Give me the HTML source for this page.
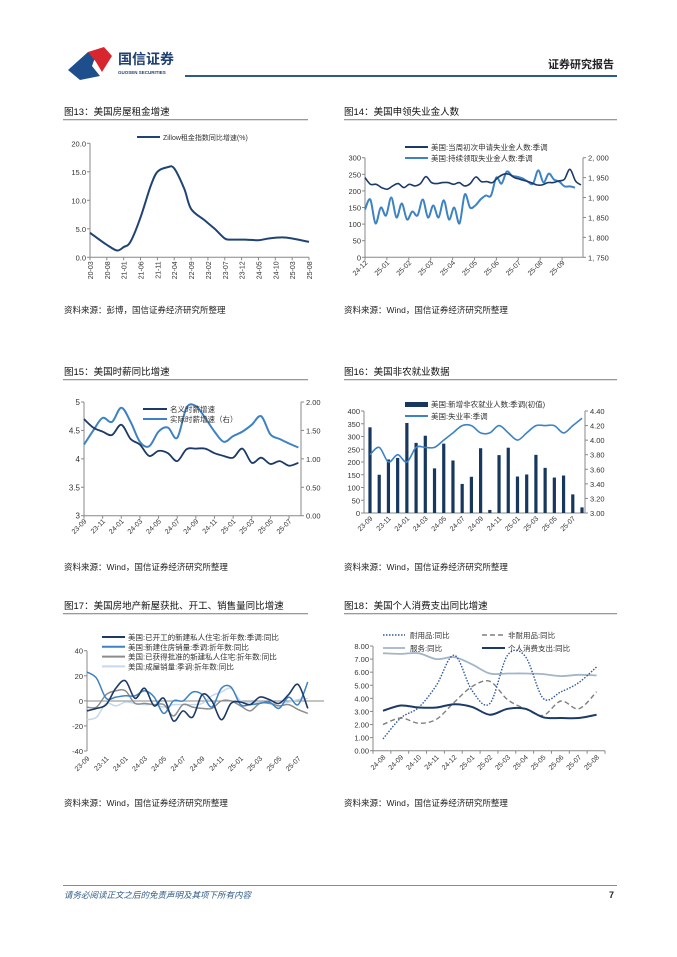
<!DOCTYPE html>
<html><head><meta charset="utf-8">
<style>
html,body{margin:0;padding:0;background:#fff;}
svg{display:block;font-family:"Liberation Sans","Noto Sans CJK SC",sans-serif;}
</style></head>
<body>
<svg id="s" width="677" height="957" viewBox="0 0 677 957" xmlns="http://www.w3.org/2000/svg">
<path d="M68,70 L88,52 L96,55 L92,66 L100,76 L80,80 Z" fill="#1e4f8c"/>
<path d="M88,52 L104,47 L112,56 L102,72 L96,62 Z" fill="#d7262e"/>
<text x="118" y="64" font-size="14" font-weight="bold" fill="#1e3f73">国信证券</text>
<text x="118" y="74" font-size="4.5" font-weight="bold" fill="#1e3f73">GUOSEN SECURITIES</text>
<text x="614" y="68" font-size="11" font-weight="bold" fill="#222" text-anchor="end">证券研究报告</text>
<rect x="185" y="75" width="432" height="2" fill="#2e5a88"/>
<g font-size="9.5" fill="#111">
<text x="64" y="115">图13：美国房屋租金增速</text>
<text x="344" y="115">图14：美国申领失业金人数</text>
<text x="64" y="375">图15：美国时薪同比增速</text>
<text x="344" y="375">图16：美国非农就业数据</text>
<text x="64" y="609">图17：美国房地产新屋获批、开工、销售量同比增速</text>
<text x="344" y="609">图18：美国个人消费支出同比增速</text>
</g>
<g fill="#999">
<rect x="63" y="119" width="245" height="1.3"/><rect x="344" y="119" width="273" height="1.3"/>
<rect x="63" y="379" width="245" height="1.3"/><rect x="344" y="379" width="273" height="1.3"/>
<rect x="63" y="613" width="245" height="1.3"/><rect x="344" y="613" width="273" height="1.3"/>
</g>
<g font-size="8.5" fill="#222">
<text x="64" y="313">资料来源：彭博，国信证券经济研究所整理</text>
<text x="344" y="313">资料来源：Wind，国信证券经济研究所整理</text>
<text x="64" y="570">资料来源：Wind，国信证券经济研究所整理</text>
<text x="344" y="570">资料来源：Wind，国信证券经济研究所整理</text>
<text x="64" y="806">资料来源：Wind，国信证券经济研究所整理</text>
<text x="344" y="806">资料来源：Wind，国信证券经济研究所整理</text>
</g>
<rect x="63" y="885" width="554" height="1" fill="#7a8ea8"/>
<text x="64" y="898" font-size="8.5" font-style="italic" fill="#2e5a88">请务必阅读正文之后的免责声明及其项下所有内容</text>
<text x="614" y="898" font-size="9" font-weight="bold" fill="#222" text-anchor="end">7</text>
<g id="g"></g>
</svg>
<script>
var G=document.getElementById('g'),out='';
function T(x,y,t,o){o=o||{};out+='<text x="'+x+'" y="'+y+'" font-size="'+(o.fs||7.5)+'" fill="'+(o.c||'#333')+'"'+(o.a?' text-anchor="'+o.a+'"':'')+(o.r!=null?' transform="rotate('+o.r+' '+x+' '+y+')"':'')+'>'+t+'</text>';}
function L(x1,y1,x2,y2,c,w,d){out+='<line x1="'+x1+'" y1="'+y1+'" x2="'+x2+'" y2="'+y2+'" stroke="'+c+'" stroke-width="'+(w||1)+'"'+(d?' stroke-dasharray="'+d+'"':'')+'/>';}
function smooth(p){var d='M'+p[0][0].toFixed(1)+','+p[0][1].toFixed(1);for(var i=0;i<p.length-1;i++){var p0=p[i-1]||p[i],p1=p[i],p2=p[i+1],p3=p[i+2]||p2;var c1=[p1[0]+(p2[0]-p0[0])/6,p1[1]+(p2[1]-p0[1])/6],c2=[p2[0]-(p3[0]-p1[0])/6,p2[1]-(p3[1]-p1[1])/6];d+=' C'+c1[0].toFixed(1)+','+c1[1].toFixed(1)+' '+c2[0].toFixed(1)+','+c2[1].toFixed(1)+' '+p2[0].toFixed(1)+','+p2[1].toFixed(1);}return d;}
function P(pts,c,w,d){out+='<path d="'+smooth(pts)+'" fill="none" stroke="'+c+'" stroke-width="'+(w||1.5)+'"'+(d?' stroke-dasharray="'+d+'"':'')+' stroke-linejoin="round"/>';}
function series(vals,x0,dx,y0,y1,v0,v1){return vals.map(function(v,i){return [x0+i*dx,y0+(v-v0)/(v1-v0)*(y1-y0)];});}
var AX='#888',NAVY='#1b3a66',BLUE='#3c82c4';

(function(){var x0=90,x1=309,yb=257.3,yt=143.3;
L(x0,yt,x0,yb,AX);L(x0,yb,x1,yb,AX);
for(var i=0;i<=4;i++){var y=yb-i*(yb-yt)/4;L(x0-3,y,x0,y,AX);T(x0-4,y+3,(i*5).toFixed(1),{a:'end'});}
var lab=['20-03','20-08','21-01','21-06','21-11','22-04','22-09','23-02','23-07','23-12','24-05','24-10','25-03','25-08'];
var dm=(x1-x0)/65;
lab.forEach(function(t,i){var x=x0+i*5*dm;L(x,yb,x,yb+3,AX);T(x+3,yb+4,t,{a:'end',r:-90,fs:7});});
var k=[[0,4.3],[3,3],[5,2.2],[8,1.2],[10,1.8],[12,2.7],[15,7],[18,12.5],[20,15],[23,15.8],[25,15.6],[28,12],[30,8.5],[34,6.5],[37,5],[40,3.3],[42,3.1],[46,3.1],[50,3.0],[53,3.3],[57,3.5],[60,3.3],[65,2.7]];
P(k.map(function(p){return [x0+p[0]*dm,yb-p[1]/20*(yb-yt)];}),'#1f4474',2);
L(137,137,160,137,'#1f4474',2);T(163,140,'Zillow租金指数同比增速(%)',{fs:7});
})();

(function(){var x0=365,x1=583,yb=257.3,yt=157.7;
L(x0,yt,x0,yb,AX);L(x0,yb,x1,yb,AX);L(x1,yt,x1,yb,AX);
for(var i=0;i<=6;i++){var y=yb-i*(yb-yt)/6;L(x0-3,y,x0,y,AX);T(x0-4,y+3,i*50,{a:'end'});}
var rl=['1, 750','1, 800','1, 850','1, 900','1, 950','2, 000'];
for(var i=0;i<=5;i++){var y=yb-i*(yb-yt)/5;L(x1,y,x1+3,y,AX);T(x1+5,y+3,rl[i]);}
var lab=['24-12','25-01','25-02','25-03','25-04','25-05','25-06','25-07','25-08','25-09'];
lab.forEach(function(t,i){var x=x0+i*21.9;L(x,yb,x,yb+3,AX);T(x+3,yb+6,t,{a:'end',r:-45,fs:7});});
var a=[240,220,220,210,205,215,222,210,220,215,222,243,225,222,225,225,220,225,215,222,242,228,228,225,240,250,250,240,235,230,225,218,218,225,225,230,235,265,230,218];
var b=[1870,1895,1835,1875,1855,1900,1850,1885,1845,1865,1855,1895,1850,1880,1850,1893,1845,1875,1835,1908,1875,1880,1895,1905,1905,1950,1935,1965,1955,1952,1948,1940,1935,1968,1938,1960,1945,1940,1928,1928,1925];
P(series(b,x0,(575-x0)/40,yb,yt,1750,2000),BLUE,2);
P(series(a,x0,(581-x0)/39,yb,yt,0,300),NAVY,1.6);
L(405,147,428,147,NAVY,2);T(431,150,'美国:当周初次申请失业金人数:季调');
L(405,158,428,158,BLUE,2);T(431,161,'美国:持续领取失业金人数:季调');
})();

(function(){var x0=84,x1=301,yb=515.7,yt=402;
L(x0,yt,x0,yb,AX);L(x0,yb,x1,yb,AX);L(x1,yt,x1,yb,AX);
var ll=['3','3.5','4','4.5','5'],rl=['0.00','0.50','1.00','1.50','2.00'];
for(var i=0;i<=4;i++){var y=yb-i*(yb-yt)/4;L(x0-3,y,x0,y,AX);T(x0-4,y+3,ll[i],{a:'end',fs:8});L(x1,y,x1+3,y,AX);T(x1+5,y+3,rl[i]);}
var lab=['23-09','23-11','24-01','24-03','24-05','24-07','24-09','24-11','25-01','25-03','25-05','25-07'];
var dm=9.32;
lab.forEach(function(t,i){var x=x0+i*2*dm;L(x,yb,x,yb+3,AX);T(x+3,yb+6,t,{a:'end',r:-45,fs:7});});
var n=[4.7,4.55,4.48,4.42,4.6,4.35,4.25,4.05,4.14,4.1,3.96,4.17,4.18,4.18,4.1,4.05,4.02,4.18,3.93,4.02,3.91,3.96,3.88,3.93];
var r=[1.25,1.5,1.72,1.65,1.9,1.65,1.3,1.22,1.48,1.55,1.37,1.9,1.93,1.72,1.48,1.3,1.4,1.48,1.6,1.75,1.43,1.35,1.27,1.2];
P(series(r,x0,dm,yb,yt,0,2),BLUE,2);
P(series(n,x0,dm,yb,yt,3,5),NAVY,1.8);
L(143,409,167,409,NAVY,2);T(170,412,'名义时薪增速');
L(143,419,167,419,BLUE,2);T(170,422,'实际时薪增速（右）');
})();

(function(){var x0=364,x1=585,yb=513,yt=411;
L(x0,yt,x0,yb,AX);L(x0,yb,x1,yb,AX);L(x1,yt,x1,yb,AX);
for(var i=0;i<=8;i++){var y=yb-i*(yb-yt)/8;L(x0-3,y,x0,y,AX);T(x0-4,y+3,i*50,{a:'end'});}
for(var i=0;i<=7;i++){var y=yb-i*(yb-yt)/7;L(x1,y,x1+3,y,AX);T(x1+5,y+3,(3+i*0.2).toFixed(2));}
var dm=(582-370)/23;
var lab=['23-09','23-11','24-01','24-03','24-05','24-07','24-09','24-11','25-01','25-03','25-05','25-07'];
lab.forEach(function(t,i){var x=370+i*2*dm;T(x+3,yb+6,t,{a:'end',r:-45,fs:7});});
var b=[336,150,210,216,353,275,303,175,272,206,114,142,254,12,227,256,143,151,228,177,139,147,73,22];
b.forEach(function(v,i){var x=370+i*dm,h=v/400*(yb-yt);out+='<rect x="'+(x-1.6)+'" y="'+(yb-h)+'" width="3.2" height="'+h+'" fill="#17375e"/>';});
var u=[3.8,3.9,3.7,3.8,3.7,3.9,3.9,3.9,4.0,4.1,4.2,4.2,4.1,4.1,4.2,4.1,4.0,4.1,4.2,4.2,4.2,4.1,4.2,4.3];
P(series(u,370,dm,yb,yt,3,4.4),BLUE,1.6);
out+='<rect x="405" y="402" width="23" height="5" fill="#17375e"/>';T(431,407,'美国:新增非农就业人数:季调(初值)');
L(405,416,428,416,BLUE,2);T(431,419,'美国:失业率:季调');
})();

(function(){var x0=87,x1=324,yb=751,yt=650.7,y0=701;
L(x0,yt,x0,yb,AX);L(x0,y0,x1,y0,AX);
for(var i=0;i<=4;i++){var y=yb-i*(yb-yt)/4;L(x0-3,y,x0,y,AX);T(x0-4,y+3,-40+i*20,{a:'end'});}
var dm=9.6;
var lab=['23-09','23-11','24-01','24-03','24-05','24-07','24-09','24-11','25-01','25-03','25-05','25-07'];
lab.forEach(function(t,i){var x=x0+i*2*dm;T(x+3,yb+8,t,{a:'end',r:-45,fs:7});});
var s4=[-15,-13,-2,-4,-1,-2,-3,-3,-5,-3,-3,-3,-2,4,7,10,0,-1,-1,-2,-2,-1,1,2];
var s3=[-5,-5,5,8,8,-2,-2,-3,-3,-12,-3,-5,-6,-6,0,0,-4,-8,-2,-2,-4,-3,-7,-10];
var s2=[23,18,2,3,4,4,8,3,-10,0,0,7,5,-5,10,11,-3,-3,-2,-1,-6,3,-3,15];
var s1=[-8,-6,-3,10,16,2,10,-4,2,-16,-8,-13,5,0,-15,-2,-1,-3,3,1,-2,5,13,-6];
P(series(s4,x0,dm,yb,yt,-40,40),'#c5d9ee',1.5);
P(series(s3,x0,dm,yb,yt,-40,40),'#8c8c8c',1.5);
P(series(s2,x0,dm,yb,yt,-40,40),BLUE,1.5);
P(series(s1,x0,dm,yb,yt,-40,40),NAVY,1.6);
var lg=[[NAVY,'美国:已开工的新建私人住宅:折年数:季调:同比'],[BLUE,'美国:新建住房销量:季调:折年数:同比'],['#8c8c8c','美国:已获得批准的新建私人住宅:折年数:同比'],['#c5d9ee','美国:成屋销量:季调:折年数:同比']];
lg.forEach(function(l,i){var y=637+i*9.8;L(102,y,125,y,l[0],2);T(128,y+3,l[1]);});
})();

(function(){var x0=373,x1=605,yb=750.7,yt=646;
L(x0,yt,x0,yb,AX);L(x0,yb,x1,yb,AX);
for(var i=0;i<=8;i++){var y=yb-i*(yb-yt)/8;L(x0-3,y,x0,y,AX);T(x0-4,y+3,i+'.00',{a:'end'});}
var lab=['24-08','24-09','24-10','24-11','24-12','25-01','25-02','25-03','25-04','25-05','25-06','25-07','25-08'];
var dm=(x1-x0)/13;
for(var i=0;i<=13;i++)L(x0+i*dm,yb,x0+i*dm,yb+3,AX);
var xs=383;
lab.forEach(function(t,i){var x=xs+i*17.8;T(x+3,yb+7,t,{a:'end',r:-45,fs:7});});
var d=[0.9,2.5,3.3,5.0,7.3,4.6,3.6,7.3,7.2,4.0,4.5,5.2,6.4];
var nd=[2.0,2.5,2.1,2.4,3.7,4.9,5.3,3.9,3.2,2.7,3.8,3.2,4.5];
var sv=[7.45,7.4,7.45,7.0,7.15,6.6,5.9,5.9,5.9,5.85,5.7,5.8,5.75];
var pc=[3.05,3.45,3.3,3.3,3.55,3.35,2.75,3.2,3.2,2.55,2.5,2.5,2.75];
P(series(sv,xs,17.8,yb,yt,0,8),'#a3b5c9',1.8);
P(series(nd,xs,17.8,yb,yt,0,8),'#7f7f7f',1.4,'5,3');
P(series(d,xs,17.8,yb,yt,0,8),'#2e5a9c',1.4,'1.5,1.5');
P(series(pc,xs,17.8,yb,yt,0,8),NAVY,2);
L(383,635,405,635,'#2e5a9c',1.4,'1.5,1.5');T(410,638,'耐用品:同比');
L(482,635,505,635,'#7f7f7f',1.4,'5,3');T(508,638,'非耐用品:同比');
L(383,648,405,648,'#a3b5c9',1.8);T(410,651,'服务:同比');
L(482,648,505,648,NAVY,2);T(508,651,'个人消费支出:同比');
})();
G.innerHTML=out;
</script>
</body></html>
